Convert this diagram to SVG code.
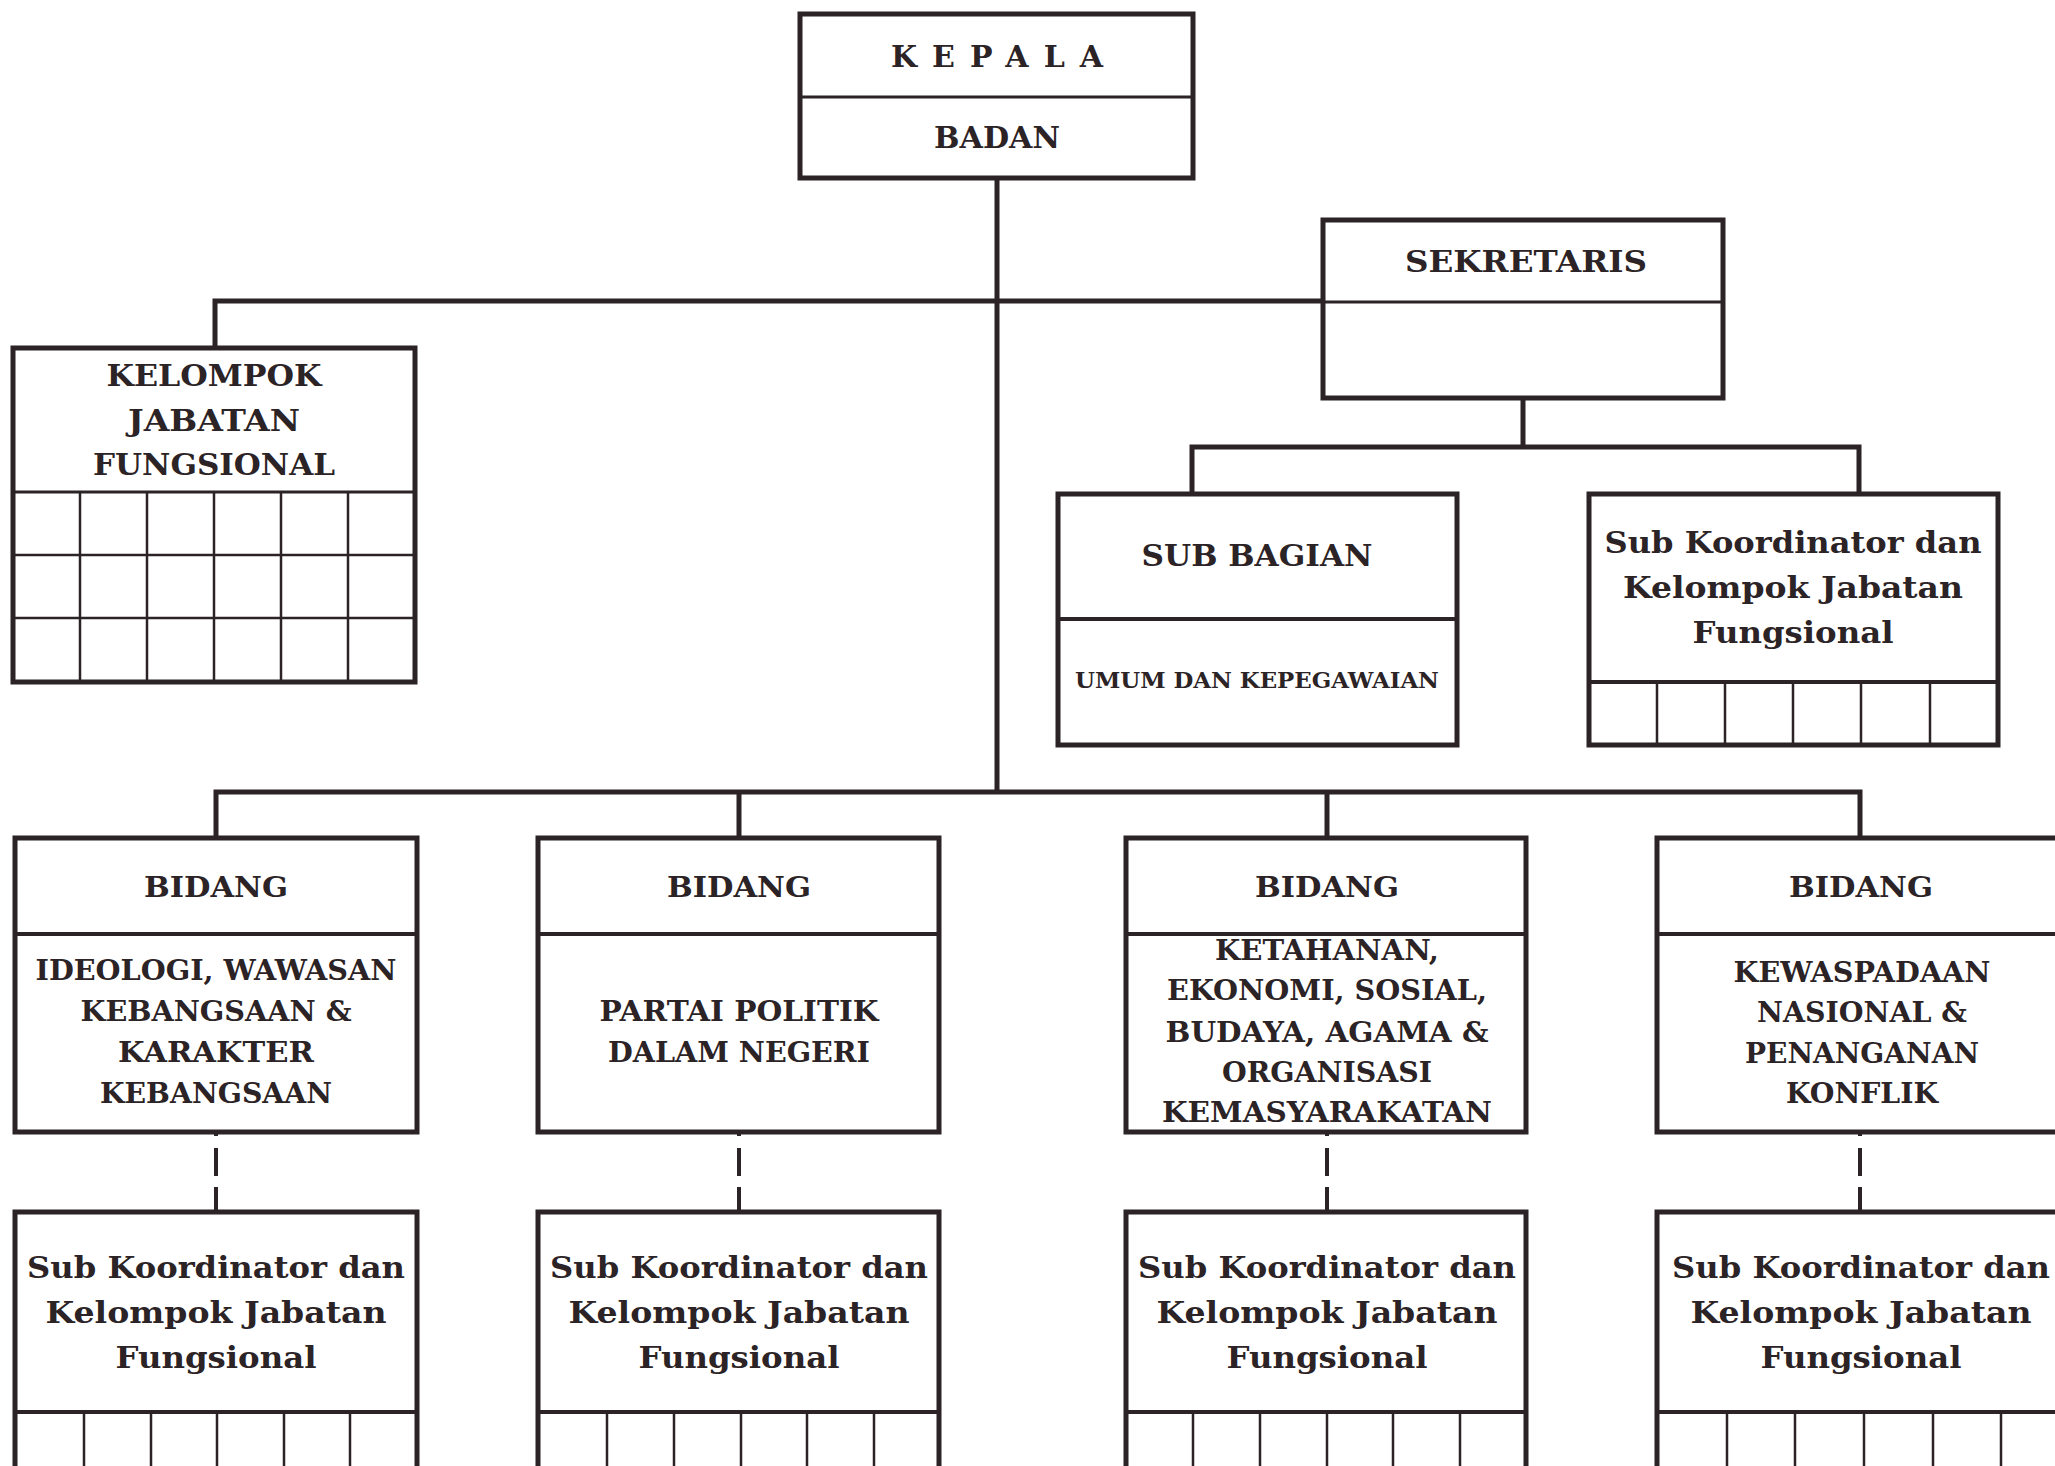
<svg xmlns="http://www.w3.org/2000/svg" width="2055" height="1466" viewBox="0 0 2055 1466">
<style>
.box{fill:#fff;stroke:#2b2325;stroke-width:5}
.div{stroke:#2b2325;stroke-width:4;fill:none}
.thin{stroke:#2b2325;stroke-width:3;fill:none}
.grid{stroke:#2b2325;stroke-width:2.5;fill:none}
.con{stroke:#2b2325;stroke-width:5;fill:none}
.dash{stroke:#2b2325;stroke-width:4;fill:none;stroke-dasharray:4 12 28 11 25}
.t{font-family:"DejaVu Serif","Liberation Serif",serif;font-weight:bold;fill:#2b2325;text-anchor:middle}
.s30{font-size:30px}
.s29{font-size:29px}
.s27{font-size:27px}
.s22{font-size:22px}
</style>
<rect x="0" y="0" width="2055" height="1466" fill="#fff"/>
<g id="connectors">
<path class="con" d="M997 178 V792"/>
<path class="con" d="M215 348 V301 H1323"/>
<path class="con" d="M1523 398 V447"/>
<path class="con" d="M1192 494 V447 H1859 V494"/>
<path class="con" d="M216 838 V792 H1860 V838"/>
<path class="con" d="M739 792 V838"/>
<path class="con" d="M1327 792 V838"/>
<path class="dash" d="M216 1132 V1212"/>
<path class="dash" d="M739 1132 V1212"/>
<path class="dash" d="M1327 1132 V1212"/>
<path class="dash" d="M1860 1132 V1212"/>
</g>
<g id="kepala">
<rect class="box" x="800" y="14" width="393" height="164"/>
<path class="thin" d="M800 97 H1193"/>
<text class="t s30" x="997" y="67" textLength="212" lengthAdjust="spacing">KEPALA</text>
<text class="t s30" x="997" y="148" textLength="126" lengthAdjust="spacingAndGlyphs">BADAN</text>
</g>
<g id="sekretaris">
<rect class="box" x="1323" y="220" width="400" height="178"/>
<path class="thin" d="M1323 302 H1723"/>
<text class="t s30" x="1526" y="272" textLength="242" lengthAdjust="spacingAndGlyphs">SEKRETARIS</text>
</g>
<g id="kelompok-jabatan-fungsional">
<rect class="box" x="13" y="348" width="402" height="334"/>
<path class="thin" d="M13 492 H415"/>
<path class="grid" d="M13 555 H415 M13 618 H415 M80 492 V682 M147 492 V682 M214 492 V682 M281 492 V682 M348 492 V682"/>
<text class="t s29" x="214" y="386" textLength="215" lengthAdjust="spacingAndGlyphs">KELOMPOK</text>
<text class="t s29" x="214" y="431" textLength="172" lengthAdjust="spacingAndGlyphs">JABATAN</text>
<text class="t s29" x="214" y="475" textLength="242" lengthAdjust="spacingAndGlyphs">FUNGSIONAL</text>
</g>
<g id="sub-bagian">
<rect class="box" x="1058" y="494" width="399" height="251"/>
<path class="div" d="M1058 619 H1457"/>
<text class="t s29" x="1257" y="566" textLength="231" lengthAdjust="spacingAndGlyphs">SUB BAGIAN</text>
<text class="t s22" x="1257" y="688" textLength="364" lengthAdjust="spacingAndGlyphs">UMUM DAN KEPEGAWAIAN</text>
</g>
<g id="sub-koordinator-sekretariat">
<rect class="box" x="1589" y="494" width="409" height="251"/>
<path class="div" d="M1589 682 H1998"/>
<path class="grid" d="M1657 682 V745 M1725 682 V745 M1793 682 V745 M1861 682 V745 M1930 682 V745"/>
<text class="t s29" x="1793" y="553" textLength="377" lengthAdjust="spacingAndGlyphs">Sub Koordinator dan</text>
<text class="t s29" x="1793" y="598" textLength="340" lengthAdjust="spacingAndGlyphs">Kelompok Jabatan</text>
<text class="t s29" x="1793" y="643" textLength="201" lengthAdjust="spacingAndGlyphs">Fungsional</text>
</g>
<g id="bidang-1">
<rect class="box" x="15" y="838" width="402" height="294"/>
<path class="div" d="M15 934 H417"/>
<text class="t s27" x="216" y="897" textLength="144" lengthAdjust="spacingAndGlyphs">BIDANG</text>
<text class="t s27" x="216" y="980" textLength="361" lengthAdjust="spacingAndGlyphs">IDEOLOGI, WAWASAN</text>
<text class="t s27" x="216" y="1021" textLength="271" lengthAdjust="spacingAndGlyphs">KEBANGSAAN &amp;</text>
<text class="t s27" x="216" y="1062" textLength="196" lengthAdjust="spacingAndGlyphs">KARAKTER</text>
<text class="t s27" x="216" y="1103" textLength="232" lengthAdjust="spacingAndGlyphs">KEBANGSAAN</text>
</g>
<g id="bidang-2">
<rect class="box" x="538" y="838" width="401" height="294"/>
<path class="div" d="M538 934 H939"/>
<text class="t s27" x="739" y="897" textLength="144" lengthAdjust="spacingAndGlyphs">BIDANG</text>
<text class="t s27" x="739" y="1021" textLength="279" lengthAdjust="spacingAndGlyphs">PARTAI POLITIK</text>
<text class="t s27" x="739" y="1062" textLength="262" lengthAdjust="spacingAndGlyphs">DALAM NEGERI</text>
</g>
<g id="bidang-3">
<rect class="box" x="1126" y="838" width="400" height="294"/>
<path class="div" d="M1126 934 H1526"/>
<text class="t s27" x="1327" y="897" textLength="144" lengthAdjust="spacingAndGlyphs">BIDANG</text>
<text class="t s27" x="1327" y="960" textLength="224" lengthAdjust="spacingAndGlyphs">KETAHANAN,</text>
<text class="t s27" x="1327" y="1000" textLength="320" lengthAdjust="spacingAndGlyphs">EKONOMI, SOSIAL,</text>
<text class="t s27" x="1327" y="1042" textLength="323" lengthAdjust="spacingAndGlyphs">BUDAYA, AGAMA &amp;</text>
<text class="t s27" x="1327" y="1082" textLength="210" lengthAdjust="spacingAndGlyphs">ORGANISASI</text>
<text class="t s27" x="1327" y="1122" textLength="330" lengthAdjust="spacingAndGlyphs">KEMASYARAKATAN</text>
</g>
<g id="bidang-4">
<rect class="box" x="1657" y="838" width="402" height="294"/>
<path class="div" d="M1657 934 H2059"/>
<text class="t s27" x="1861" y="897" textLength="144" lengthAdjust="spacingAndGlyphs">BIDANG</text>
<text class="t s27" x="1862" y="982" textLength="257" lengthAdjust="spacingAndGlyphs">KEWASPADAAN</text>
<text class="t s27" x="1862" y="1022" textLength="210" lengthAdjust="spacingAndGlyphs">NASIONAL &amp;</text>
<text class="t s27" x="1862" y="1063" textLength="234" lengthAdjust="spacingAndGlyphs">PENANGANAN</text>
<text class="t s27" x="1862" y="1103" textLength="152" lengthAdjust="spacingAndGlyphs">KONFLIK</text>
</g>
<g id="sub-koordinator-1">
<rect class="box" x="15" y="1212" width="402" height="290"/>
<path class="div" d="M15 1412 H417"/>
<path class="grid" d="M84 1412 V1470 M151 1412 V1470 M217 1412 V1470 M284 1412 V1470 M350 1412 V1470"/>
<text class="t s29" x="216" y="1278" textLength="378" lengthAdjust="spacingAndGlyphs">Sub Koordinator dan</text>
<text class="t s29" x="216" y="1323" textLength="341" lengthAdjust="spacingAndGlyphs">Kelompok Jabatan</text>
<text class="t s29" x="216" y="1368" textLength="201" lengthAdjust="spacingAndGlyphs">Fungsional</text>
</g>
<g id="sub-koordinator-2">
<rect class="box" x="538" y="1212" width="401" height="290"/>
<path class="div" d="M538 1412 H939"/>
<path class="grid" d="M607 1412 V1470 M674 1412 V1470 M741 1412 V1470 M807 1412 V1470 M874 1412 V1470"/>
<text class="t s29" x="739" y="1278" textLength="378" lengthAdjust="spacingAndGlyphs">Sub Koordinator dan</text>
<text class="t s29" x="739" y="1323" textLength="341" lengthAdjust="spacingAndGlyphs">Kelompok Jabatan</text>
<text class="t s29" x="739" y="1368" textLength="201" lengthAdjust="spacingAndGlyphs">Fungsional</text>
</g>
<g id="sub-koordinator-3">
<rect class="box" x="1126" y="1212" width="400" height="290"/>
<path class="div" d="M1126 1412 H1526"/>
<path class="grid" d="M1193 1412 V1470 M1260 1412 V1470 M1327 1412 V1470 M1393 1412 V1470 M1460 1412 V1470"/>
<text class="t s29" x="1327" y="1278" textLength="378" lengthAdjust="spacingAndGlyphs">Sub Koordinator dan</text>
<text class="t s29" x="1327" y="1323" textLength="341" lengthAdjust="spacingAndGlyphs">Kelompok Jabatan</text>
<text class="t s29" x="1327" y="1368" textLength="201" lengthAdjust="spacingAndGlyphs">Fungsional</text>
</g>
<g id="sub-koordinator-4">
<rect class="box" x="1657" y="1212" width="402" height="290"/>
<path class="div" d="M1657 1412 H2059"/>
<path class="grid" d="M1727 1412 V1470 M1795 1412 V1470 M1864 1412 V1470 M1933 1412 V1470 M2001 1412 V1470"/>
<text class="t s29" x="1861" y="1278" textLength="378" lengthAdjust="spacingAndGlyphs">Sub Koordinator dan</text>
<text class="t s29" x="1861" y="1323" textLength="341" lengthAdjust="spacingAndGlyphs">Kelompok Jabatan</text>
<text class="t s29" x="1861" y="1368" textLength="201" lengthAdjust="spacingAndGlyphs">Fungsional</text>
</g>
</svg>
